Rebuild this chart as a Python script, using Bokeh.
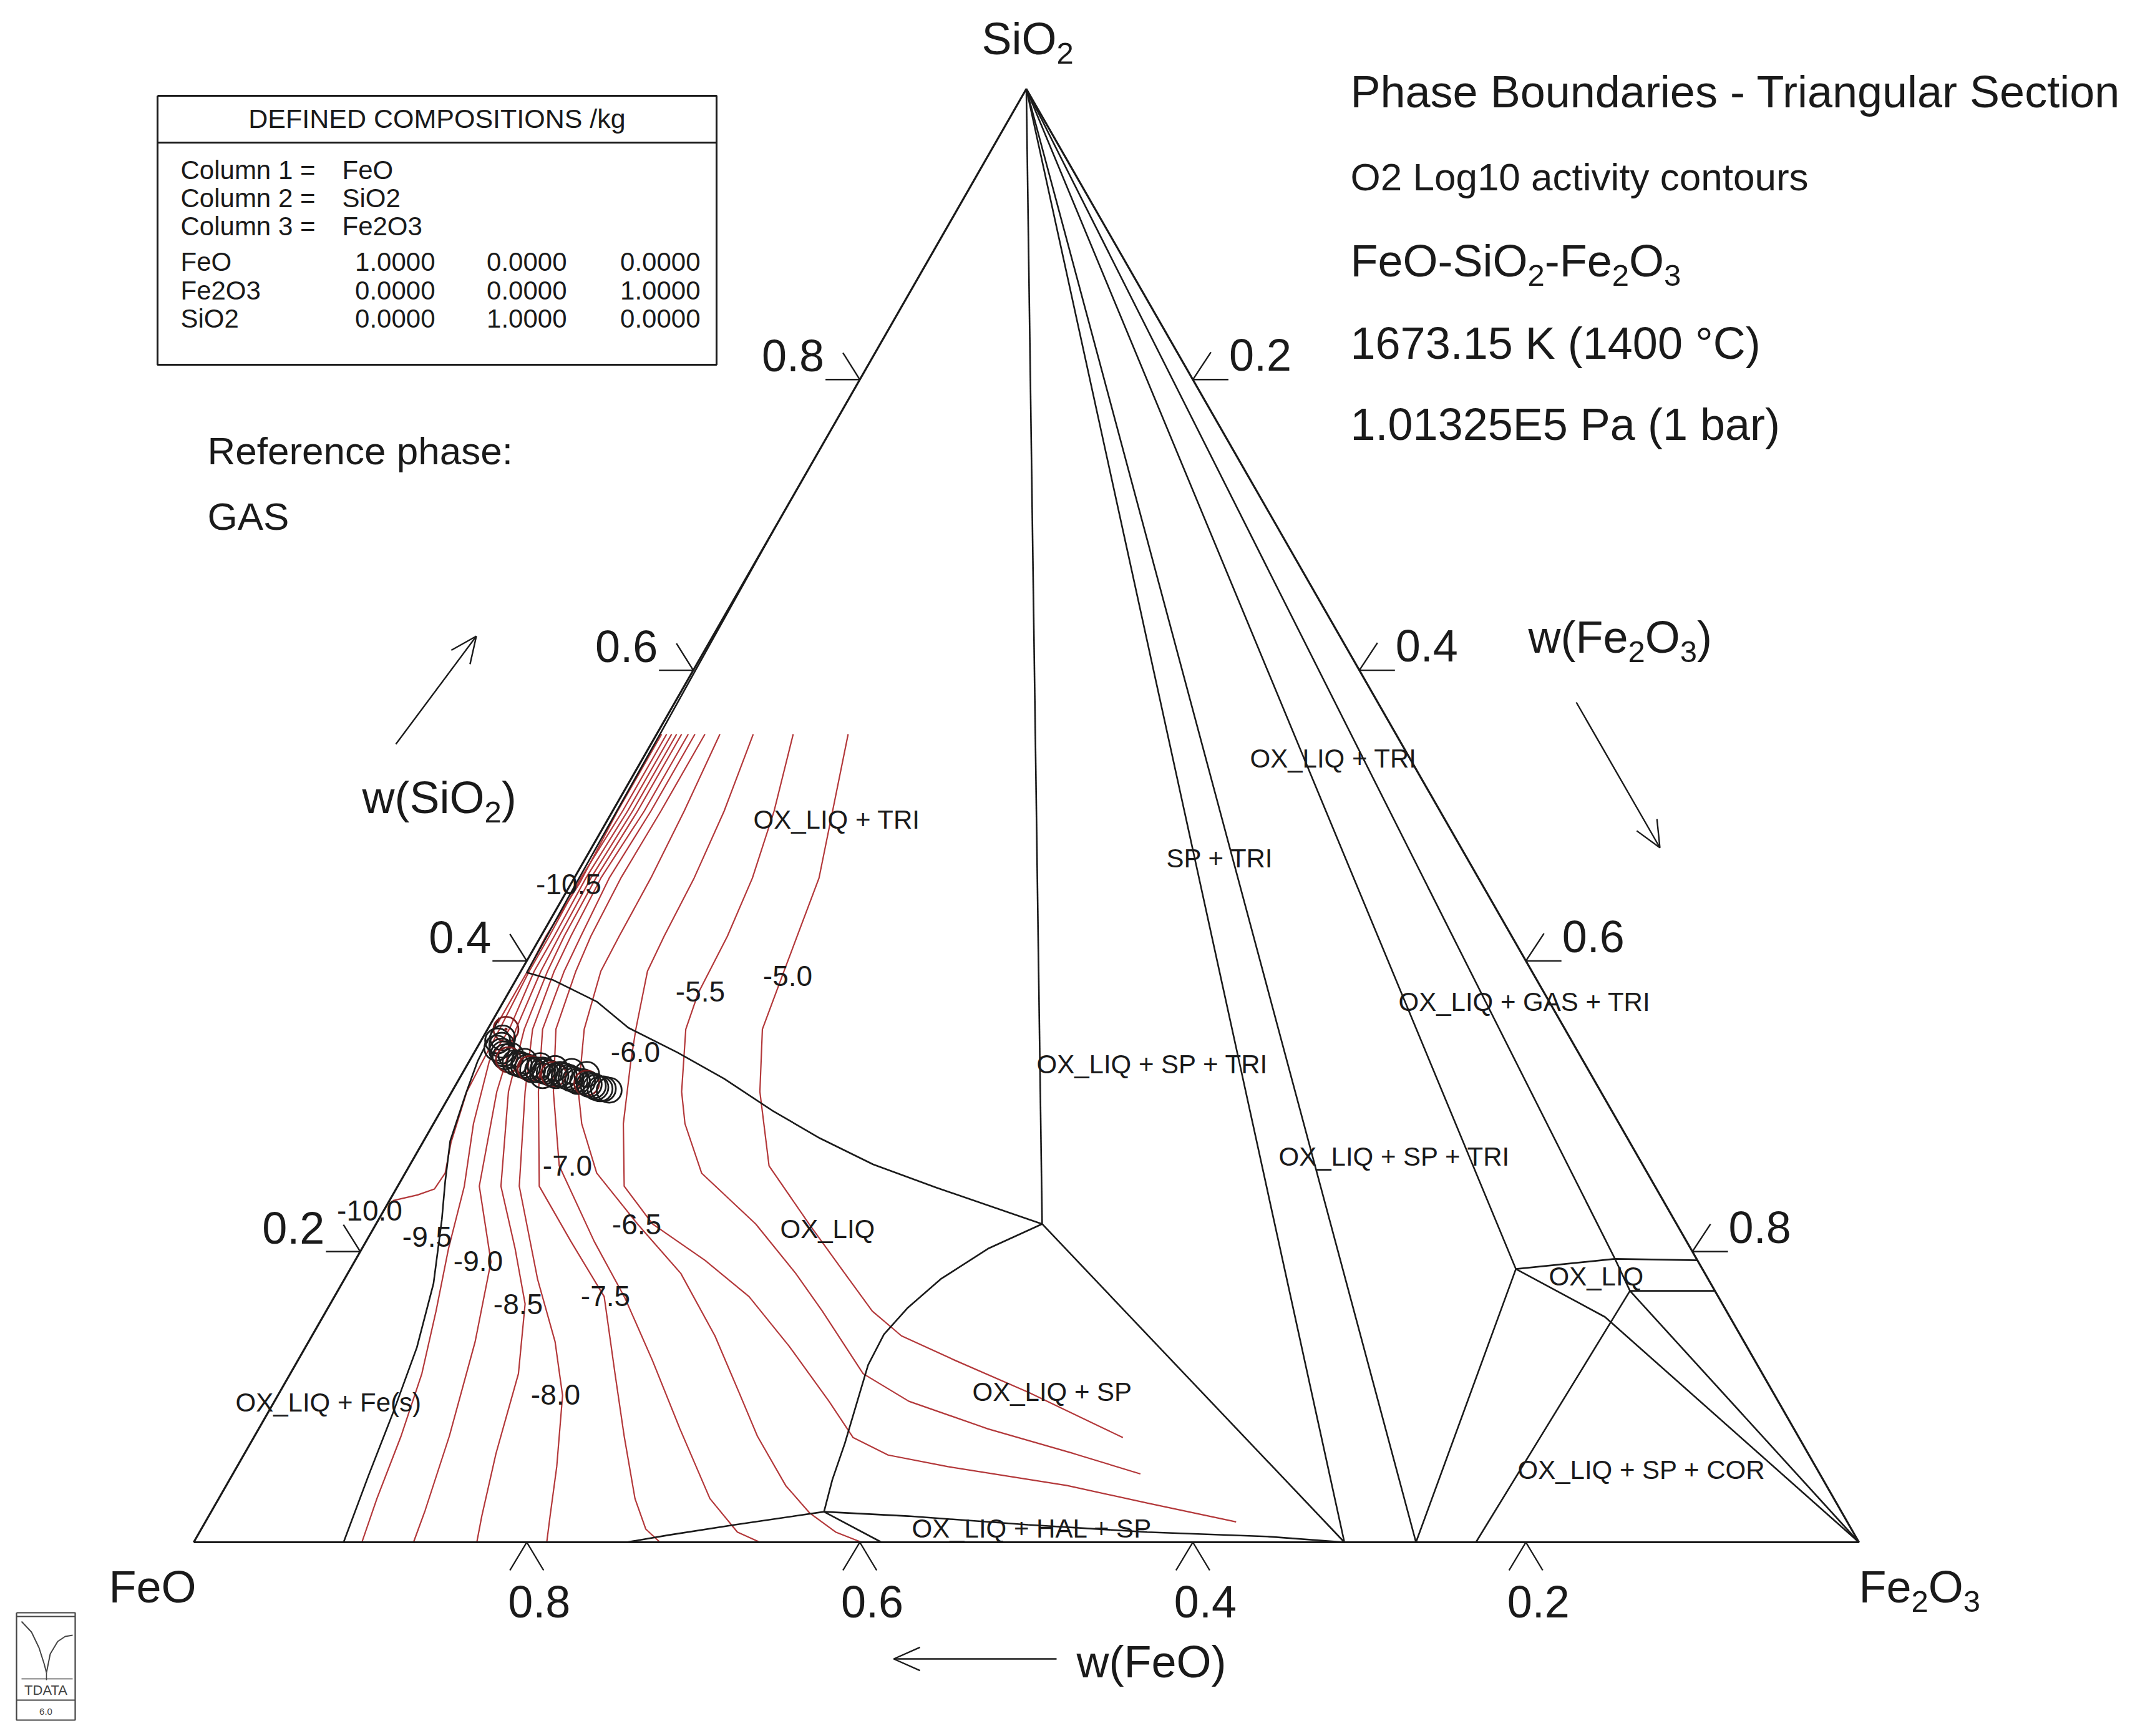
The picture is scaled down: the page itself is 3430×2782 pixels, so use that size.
import math
from bokeh.plotting import figure
from bokeh.models import Range1d
from bokeh.core.properties import value
from bokeh.embed import file_html
from bokeh.resources import INLINE

# ---------------- values (mass fractions) ----------------
TICK_VALUES = [0.2, 0.4, 0.6, 0.8]
TICK_LABELS = ["0.2", "0.4", "0.6", "0.8"]

CONTOUR_LABELS = ["-5.0", "-5.5", "-6.0", "-6.5", "-7.0", "-7.5",
                  "-8.0", "-8.5", "-9.0", "-9.5", "-10.0", "-10.5"]

# log10 a(O2) contours: w(SiO2) and w(Fe2O3) along each line
O2_M50_SIO2 = [.556, .457, .393, .353, .310, .259, .219, .181, .159, .142, .125, .103, .072]
O2_M50_FE2O3 = [.115, .147, .158, .165, .185, .216, .260, .303, .328, .354, .395, .450, .522]
O2_M55_SIO2 = [.556, .503, .457, .417, .378, .353, .310, .288, .254, .219, .185, .159, .116, .097, .078, .061, .047]
O2_M55_FE2O3 = [.082, .097, .107, .112, .114, .119, .138, .151, .178, .228, .269, .298, .344, .381, .438, .498, .545]
O2_M60_SIO2 = [.556, .503, .457, .417, .393, .353, .331, .288, .245, .219, .194, .169, .135, .097, .072, .060, .052, .039, .027, .014]
O2_M60_FE2O3 = [.058, .067, .072, .074, .076, .089, .097, .114, .136, .166, .210, .249, .290, .333, .360, .387, .427, .505, .559, .619]
O2_M65_SIO2 = [.556, .503, .457, .417, .393, .353, .310, .288, .254, .219, .185, .142, .103, .073, .039, .020, .007, 0.0]
O2_M65_FE2O3 = [.038, .043, .046, .047, .048, .058, .076, .089, .115, .157, .200, .242, .276, .302, .336, .360, .382, .401]
O2_M70_SIO2 = [.556, .503, .457, .417, .393, .353, .310, .259, .207, .168, .125, .078, .030, .007, 0.0]
O2_M70_FE2O3 = [.029, .029, .028, .030, .033, .041, .061, .090, .137, .175, .213, .253, .295, .323, .340]
O2_M75_SIO2 = [.556, .503, .457, .417, .393, .353, .310, .245, .207, .169, .116, .073, .030, .009, 0.0]
O2_M75_FE2O3 = [.023, .023, .021, .024, .026, .033, .052, .085, .123, .162, .195, .222, .250, .267, .280]
O2_M80_SIO2 = [.556, .503, .457, .417, .393, .353, .310, .245, .181, .138, .101, .052, .018, 0.0]
O2_M80_FE2O3 = [.019, .019, .016, .018, .020, .027, .044, .073, .116, .148, .171, .192, .205, .212]
O2_M85_SIO2 = [.556, .503, .457, .417, .393, .353, .310, .245, .202, .164, .116, .061, .018, 0.0]
O2_M85_FE2O3 = [.015, .015, .013, .014, .016, .022, .034, .062, .092, .117, .137, .151, .164, .170]
O2_M90_SIO2 = [.556, .503, .457, .417, .393, .353, .310, .245, .193, .138, .073, .022, 0.0]
O2_M90_FE2O3 = [.012, .012, .010, .011, .012, .017, .027, .049, .082, .100, .117, .128, .132]
O2_M95_SIO2 = [.556, .503, .457, .417, .393, .353, .331, .288, .245, .202, .159, .116, .073, .030, 0.0]
O2_M95_FE2O3 = [.009, .009, .007, .008, .008, .013, .012, .024, .040, .052, .066, .079, .088, .095, .101]
O2_M100_SIO2 = [.556, .503, .457, .417, .393, .357, .331, .310, .275, .254, .243, .239, .235]
O2_M100_FE2O3 = [.006, .006, .004, .005, .005, .007, .008, .009, .017, .024, .023, .015, .002]
O2_M105_SIO2 = [.556, .503, .453, .417, .393, .365, .357]
O2_M105_FE2O3 = [.003, .003, .005, .003, .004, .004, .004]

# phase boundaries
LIQ_TRI_SIO2 = [.698, .624, .556, .453, .392, .387, .372, .354, .337, .319, .297, .278, .260, .244, .219]
LIQ_TRI_FE2O3 = [.000, .001, .002, .003, .004, .022, .056, .084, .122, .159, .199, .237, .278, .324, .400]
LIQ_SP_SIO2 = [.219, .202, .181, .161, .143, .122, .097, .068, .043, .021]
LIQ_SP_FE2O3 = [.400, .376, .358, .348, .343, .344, .350, .357, .362, .368]
HAL_TOP_SIO2 = [.021, .018, .012, .007, .004, 0.0]
HAL_TOP_FE2O3 = [.368, .420, .495, .569, .642, .691]
HAL_LEFT_SIO2 = [0.0, .005, .012, .021]
HAL_LEFT_FE2O3 = [.260, .283, .319, .368]
HAL_RIGHT_SIO2 = [.021, 0.0]
HAL_RIGHT_FE2O3 = [.368, .413]
FES_SIO2 = [0.0, .046, .090, .134, .178, .222, .248, .276, .309, .331, .361]
FES_FE2O3 = [.090, .082, .075, .067, .055, .038, .027, .016, .009, .005, .003]
APEX_J1_SIO2 = [1.0, .219]
APEX_J1_FE2O3 = [0.0, .400]
J1_BASE_SIO2 = [.219, 0.0]
J1_BASE_FE2O3 = [.400, .691]
TIE_A_SIO2 = [1.0, 0.0]
TIE_A_FE2O3 = [0.0, .691]
TIE_B_SIO2 = [1.0, 0.0]
TIE_B_FE2O3 = [0.0, .734]
TIE_C_SIO2 = [1.0, .188]
TIE_C_FE2O3 = [0.0, .700]
TIE_D_SIO2 = [1.0, .195]
TIE_D_FE2O3 = [0.0, .756]
LIQ2_TOP_SIO2 = [.188, .195, .194]
LIQ2_TOP_FE2O3 = [.700, .756, .806]
LIQ2_MID_SIO2 = [.195, .173]
LIQ2_MID_FE2O3 = [.756, .776]
LIQ2_LOW_SIO2 = [.173, .173]
LIQ2_LOW_FE2O3 = [.776, .827]
P1_BASE_SIO2 = [.188, 0.0]
P1_BASE_FE2O3 = [.700, .734]
P1_CORNER_SIO2 = [.188, .155, 0.0]
P1_CORNER_FE2O3 = [.700, .770, 1.0]
P2_BASE_SIO2 = [.173, 0.0]
P2_BASE_FE2O3 = [.776, .770]
P2_CORNER_SIO2 = [.173, 0.0]
P2_CORNER_FE2O3 = [.776, 1.0]

# measured points (open circles)
MARK_SIO2 = [.353, .347, .345, .342, .340, .338, .336, .335, .334, .332, .330, .331, .329,
             .328, .328, .327, .326, .326, .325, .325, .325, .324, .324, .323, .322, .322,
             .321, .321, .320, .319, .317, .318, .317, .316, .315, .314, .313, .312, .312,
             .311, .322, .321]
MARK_FE2O3 = [.011, .012, .010, .014, .012, .016, .018, .023, .020, .023, .028, .033, .031,
              .034, .044, .037, .039, .054, .041, .044, .047, .049, .065, .052, .055, .059,
              .057, .062, .065, .067, .072, .070, .075, .078, .080, .083, .085, .088, .090,
              .094, .075, .049]

# ---------------- geometry / helpers ----------------
W, H = 3410, 2760
ORG = 0  # page offset of the canvas
X0, Y0, BASE, HGT = 310.0, 2471.0, 2669.0, 2329.0
FONT = "Liberation Sans"
INK = "#1a1a1a"
RED = "#b3383a"
KB = 0.35  # baseline correction (fraction of font size)


def PX(X):
    return (X - X0) / BASE


def PY(Y):
    return (Y0 - Y) / HGT


def tern(sio2, fe2o3):
    return [f + 0.5 * s for s, f in zip(sio2, fe2o3)], list(sio2)


ARIAL = {' ': 278, '(': 333, ')': 333, '-': 333, '.': 278, '/': 278, '=': 584, '+': 584,
         '_': 556, '°': 400, ':': 278,
         'A': 667, 'B': 667, 'C': 722, 'D': 722, 'E': 667, 'F': 611, 'G': 778, 'H': 722,
         'I': 278, 'K': 667, 'L': 556, 'M': 833, 'N': 722, 'O': 778, 'P': 667, 'Q': 778,
         'R': 722, 'S': 667, 'T': 611, 'X': 667,
         'a': 556, 'b': 556, 'c': 500, 'd': 556, 'e': 556, 'f': 278, 'g': 556, 'h': 556,
         'i': 222, 'k': 500, 'l': 222, 'm': 833, 'n': 556, 'o': 556, 'p': 556, 'r': 333,
         's': 500, 't': 278, 'u': 556, 'v': 500, 'w': 722, 'y': 500}


def tw(t, size):
    return sum(ARIAL.get(c, 556) for c in t) * size / 1000.0


p = figure(width=W, height=H, output_backend="svg", toolbar_location=None,
           x_range=Range1d(PX(ORG), PX(ORG + W)), y_range=Range1d(PY(ORG + H), PY(ORG)),
           min_border=0, x_axis_location=None, y_axis_location=None,
           outline_line_color=None, background_fill_color="white",
           border_fill_color="white")
p.xgrid.visible = False
p.ygrid.visible = False


def dput(x, y, txt, size, align="left", color=INK):
    p.text(x=[x], y=[y + KB * size / HGT], text=[txt], text_font=value(FONT),
           text_font_size=value("%.1fpx" % size), text_align=align,
           text_baseline="alphabetic", text_color=color)


def put(X, Y, txt, size, align="left", color=INK):
    dput(PX(X), PY(Y), txt, size, align, color)


def rich(X, Y, parts, size, align="left"):
    sub = size * 0.68
    shift = size * 0.21
    total = sum(tw(t, sub if s else size) for t, s in parts)
    x = X - (total / 2 if align == "center" else total if align == "right" else 0)
    for t, s in parts:
        sz = sub if s else size
        put(x, Y + (shift if s else 0), t, sz)
        x += tw(t, sz)


def pxline(pts, width=2.5, color=INK):
    p.line([PX(a) for a, b in pts], [PY(b) for a, b in pts], line_color=color,
           line_width=width)


def tline(sio2, fe2o3, width=2.6, color=INK):
    xs, ys = tern(sio2, fe2o3)
    p.line(xs, ys, line_color=color, line_width=width)


# ---------------- contours ----------------
CONTOURS = [(O2_M50_SIO2, O2_M50_FE2O3), (O2_M55_SIO2, O2_M55_FE2O3),
            (O2_M60_SIO2, O2_M60_FE2O3), (O2_M65_SIO2, O2_M65_FE2O3),
            (O2_M70_SIO2, O2_M70_FE2O3), (O2_M75_SIO2, O2_M75_FE2O3),
            (O2_M80_SIO2, O2_M80_FE2O3), (O2_M85_SIO2, O2_M85_FE2O3),
            (O2_M90_SIO2, O2_M90_FE2O3), (O2_M95_SIO2, O2_M95_FE2O3),
            (O2_M100_SIO2, O2_M100_FE2O3), (O2_M105_SIO2, O2_M105_FE2O3)]
cx, cy = [], []
for s_, f_ in CONTOURS:
    a, b = tern(s_, f_)
    cx.append(a)
    cy.append(b)
p.multi_line(cx, cy, line_color=RED, line_width=2.2)

# ---------------- phase boundaries ----------------
for s_, f_ in [(LIQ_TRI_SIO2, LIQ_TRI_FE2O3), (LIQ_SP_SIO2, LIQ_SP_FE2O3),
               (HAL_TOP_SIO2, HAL_TOP_FE2O3), (HAL_LEFT_SIO2, HAL_LEFT_FE2O3),
               (HAL_RIGHT_SIO2, HAL_RIGHT_FE2O3), (FES_SIO2, FES_FE2O3),
               (APEX_J1_SIO2, APEX_J1_FE2O3), (J1_BASE_SIO2, J1_BASE_FE2O3),
               (TIE_A_SIO2, TIE_A_FE2O3), (TIE_B_SIO2, TIE_B_FE2O3),
               (TIE_C_SIO2, TIE_C_FE2O3), (TIE_D_SIO2, TIE_D_FE2O3),
               (LIQ2_TOP_SIO2, LIQ2_TOP_FE2O3), (LIQ2_MID_SIO2, LIQ2_MID_FE2O3),
               (LIQ2_LOW_SIO2, LIQ2_LOW_FE2O3), (P1_BASE_SIO2, P1_BASE_FE2O3),
               (P1_CORNER_SIO2, P1_CORNER_FE2O3), (P2_BASE_SIO2, P2_BASE_FE2O3),
               (P2_CORNER_SIO2, P2_CORNER_FE2O3)]:
    tline(s_, f_)

# triangle
tline([0.0, 0.0, 1.0, 0.0], [0.0, 1.0, 0.0, 0.0], width=3.2)

# markers
mx, my = tern(MARK_SIO2, MARK_FE2O3)
cols = ["#7a1f1f" if i in (0, 9, 16, 24, 33) else "#1c1c1c" for i in range(len(mx))]
p.scatter(mx, my, size=40, marker="circle", fill_color=None, line_color=cols, line_width=2.8)
p.scatter(mx[:1], my[:1], size=5, marker="circle", fill_color="#7a1f1f", line_color=None)

# ---------------- ticks ----------------
tx, ty = [], []
for v, lab in zip(TICK_VALUES, TICK_LABELS):
    # left edge : w(SiO2)
    ex, ey = tern([v], [0.0])
    ex, ey = ex[0], ey[0]
    tx += [[ex, ex - 55 / BASE], [ex, ex - 27 / BASE]]
    ty += [[ey, ey], [ey, ey + 43 / HGT]]
    dput(ex - 57 / BASE, ey + 13 / HGT, lab, 72, align="right")
    # right edge : w(Fe2O3)
    ex, ey = tern([1 - v], [v])
    ex, ey = ex[0], ey[0]
    tx += [[ex, ex + 57 / BASE], [ex, ex + 29 / BASE]]
    ty += [[ey, ey], [ey, ey + 44 / HGT]]
    dput(ex + 58 / BASE, ey + 14 / HGT, lab, 72, align="left")
    # base : w(FeO)
    ex, ey = tern([0.0], [1 - v])
    ex, ey = ex[0], ey[0]
    tx += [[ex, ex - 27 / BASE], [ex, ex + 27 / BASE]]
    ty += [[ey, ey - 45 / HGT], [ey, ey - 45 / HGT]]
    dput(ex + 20 / BASE, ey - 121 / HGT, lab, 72, align="center")
p.multi_line(tx, ty, line_color=INK, line_width=2.4)

# ---------------- arrows ----------------
def arrow(x1, y1, x2, y2, L=46, ang=24):
    dx, dy = x2 - x1, y2 - y1
    n = math.hypot(dx, dy)
    bx, by = -dx / n, -dy / n
    pxline([(x1, y1), (x2, y2)], 2.4)
    for a in (ang, -ang):
        r = math.radians(a)
        rx = bx * math.cos(r) - by * math.sin(r)
        ry = bx * math.sin(r) + by * math.cos(r)
        pxline([(x2, y2), (x2 + L * rx, y2 + L * ry)], 2.4)


arrow(634, 1192, 763, 1019)
arrow(2526, 1125, 2660, 1358)
arrow(1693, 2658, 1432, 2658)

# ---------------- labels ----------------
rich(1573, 87, [("SiO", False), ("2", True)], 72)
put(174, 2568, "FeO", 72)
rich(2979, 2568, [("Fe", False), ("2", True), ("O", False), ("3", True)], 72)
rich(580, 1303, [("w(SiO", False), ("2", True), (")", False)], 72)
rich(2449, 1046, [("w(Fe", False), ("2", True), ("O", False), ("3", True), (")", False)], 72)
put(1725, 2688, "w(FeO)", 72)

put(2164, 172, "Phase Boundaries - Triangular Section", 72)
put(2164, 305, "O2 Log10 activity contours", 62)
rich(2164, 443, [("FeO-SiO", False), ("2", True), ("-Fe", False), ("2", True),
                 ("O", False), ("3", True)], 72)
put(2164, 575, "1673.15 K (1400 °C)", 72)
put(2164, 705, "1.01325E5 Pa (1 bar)", 72)

put(332, 744, "Reference phase:", 62)
put(332, 849, "GAS", 62)

# region names
REGION_TEXT = ["OX_LIQ + TRI", "OX_LIQ + TRI", "SP + TRI", "OX_LIQ + SP + TRI",
               "OX_LIQ + SP + TRI", "OX_LIQ + GAS + TRI", "OX_LIQ", "OX_LIQ + SP + COR",
               "OX_LIQ + SP", "OX_LIQ", "OX_LIQ + HAL + SP", "OX_LIQ + Fe(s)"]
REGION_POS = [(1207, 1328), (2003, 1230), (1869, 1390), (1661, 1720), (2049, 1868),
              (2241, 1620), (2482, 2060), (2432, 2370), (1558, 2245), (1250, 1984),
              (1461, 2464), (377, 2262)]
for t, (X, Y) in zip(REGION_TEXT, REGION_POS):
    put(X, Y, t, 42)

# contour labels
CLABEL_POS = [(1262, 1580), (1122, 1605), (1018, 1702), (1020, 1978), (909, 1884),
              (970, 2093), (890, 2251), (830, 2106), (766, 2037), (684, 1998),
              (592, 1956), (911, 1433)]
for t, (X, Y) in zip(CONTOUR_LABELS, CLABEL_POS):
    put(X, Y, t, 46, align="center")

# ---------------- defined-compositions box ----------------
pxline([(252, 153), (1148, 153), (1148, 584), (252, 584), (252, 153)], 3)
pxline([(252, 228), (1148, 228)], 3)
put(700, 205, "DEFINED COMPOSITIONS /kg", 43, align="center")
put(289, 287, "Column 1 =", 42)
put(548, 287, "FeO", 42)
put(289, 332, "Column 2 =", 42)
put(548, 332, "SiO2", 42)
put(289, 377, "Column 3 =", 42)
put(548, 377, "Fe2O3", 42)
ROWS = ["FeO", "Fe2O3", "SiO2"]
ROW_VALUES = [["1.0000", "0.0000", "0.0000"],
              ["0.0000", "0.0000", "1.0000"],
              ["0.0000", "1.0000", "0.0000"]]
for i, (r, vals) in enumerate(zip(ROWS, ROW_VALUES)):
    yy = 434 + i * 45.5
    put(289, yy, r, 42)
    for xr, v in zip([697, 908, 1122], vals):
        put(xr, yy, v, 42, align="right")

# ---------------- logo ----------------
pxline([(26, 2584), (120, 2584), (120, 2756), (26, 2756), (26, 2584)], 2.2, "#444")
pxline([(26, 2590), (120, 2590)], 2.2, "#444")
pxline([(34, 2598), (50, 2615), (62, 2640), (70, 2665), (74, 2680),
        (80, 2650), (92, 2630), (104, 2622), (116, 2620)], 2.0, "#444")
pxline([(74, 2680), (74, 2692)], 1.6, "#444")
pxline([(34, 2690), (116, 2690)], 1.6, "#444")
put(73, 2716, "TDATA", 22, align="center", color="#444")
pxline([(26, 2724), (120, 2724)], 2.2, "#444")
put(73, 2748, "6.0", 15, align="center", color="#444")

open("out.html", "w").write(file_html(p, INLINE))
